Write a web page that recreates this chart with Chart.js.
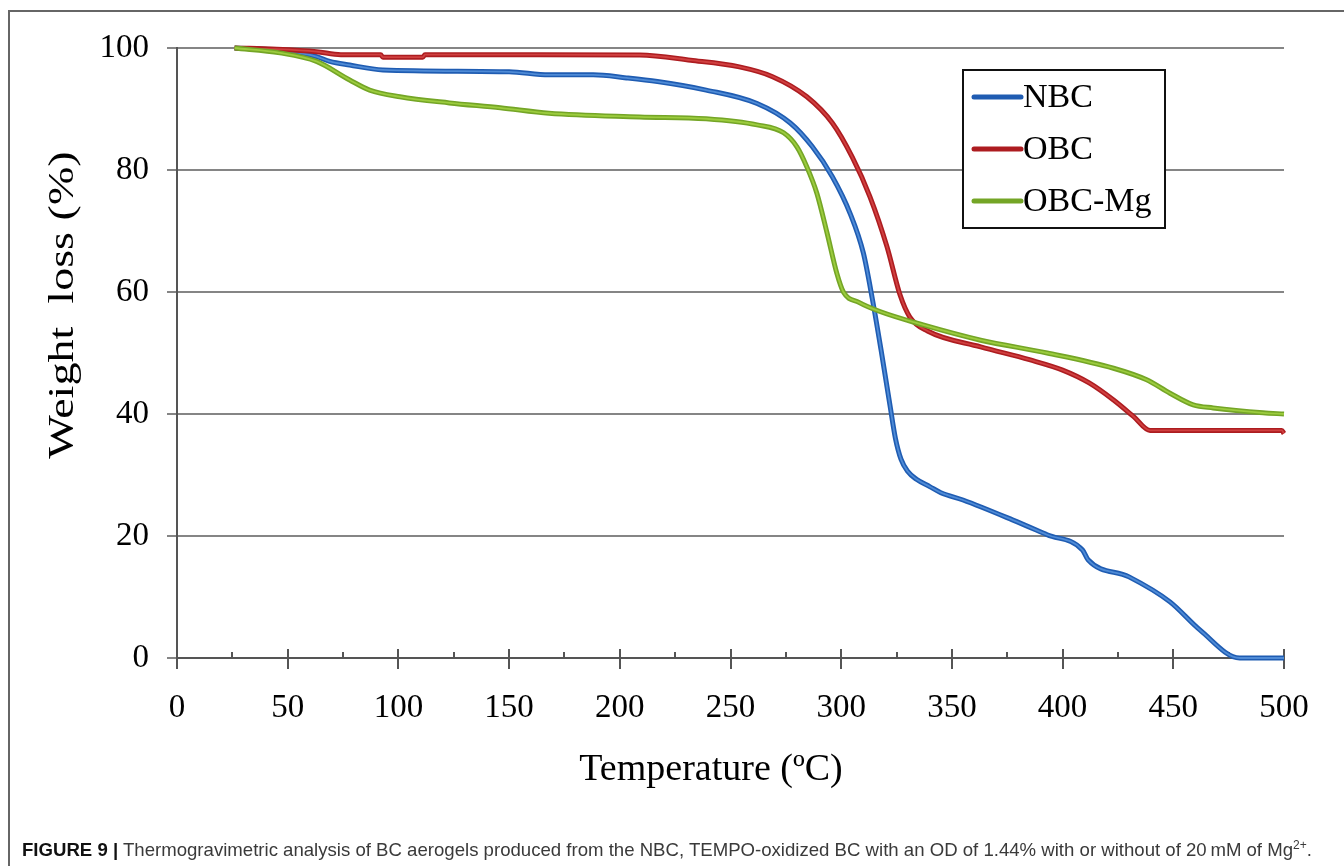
<!DOCTYPE html>
<html>
<head>
<meta charset="utf-8">
<title>TGA - BC aerogels</title>
<script src="https://cdn.jsdelivr.net/npm/chart.js@4.4.0/dist/chart.umd.min.js"></script>
<style>
    html, body { margin: 0; padding: 0; background: #fff; }
    #figure { position: relative; width: 1344px; height: 866px; overflow: hidden; }
    #frame { position: absolute; left: 8px; top: 10px; right: -4px; bottom: -4px;
             border-left: 2px solid #666; border-top: 2px solid #666; }
    #tga { position: absolute; left: 0; top: 0; }
    #caption { position: absolute; left: 22px; top: 839px; white-space: nowrap;
               font-family: 'Liberation Sans', Arial, sans-serif; font-size: 18.6px; color: #3a3a3a; }
    #caption b { color: #111; }
    #caption sup { font-size: 12px; line-height: 0; }
</style>
</head>
<body>
<div id="figure">
    <div id="frame"></div>
    <canvas id="tga" width="1344" height="866"></canvas>
    <div id="caption"><b>FIGURE 9 |</b> Thermogravimetric analysis of BC aerogels produced from the NBC, TEMPO-oxidized BC with an OD of 1.44% with or without of 20&#8201;mM of Mg<sup>2+</sup>.</div>
</div>

<script>
// DADOS DAS CURVAS (temperatura em ºC, massa restante em %)
const nbcTemp   = [26, 50, 63, 69, 78, 93, 150, 168, 188, 203, 217, 239, 262, 277, 287, 296, 304, 310, 314, 318, 322, 324.5, 327, 330, 334, 340, 345, 355, 377.6, 393, 409, 411.5, 430, 448.5, 462, 480, 500];
const nbcWeight = [100, 99.5, 98.6, 97.8, 97.2, 96.4, 96.1, 95.6, 95.6, 95.1, 94.5, 93.1, 90.9, 87.7, 83.8, 78.9, 72.9, 66.4, 59.0, 50.5, 41.5, 36.0, 32.6, 30.6, 29.3, 28.1, 27.1, 25.9, 22.6, 20.2, 17.7, 16.1, 13.3, 9.2, 4.6, 0, 0];

const obcTemp   = [26, 45, 63, 74, 92, 93, 111, 112, 150, 209, 232, 254, 269, 284.5, 296, 305, 313, 320.7, 326.6, 331, 339, 363, 385, 400, 412, 423, 432, 439.5, 499, 500];
const obcWeight = [100, 99.8, 99.4, 98.9, 98.9, 98.5, 98.5, 98.9, 98.9, 98.85, 98.0, 96.9, 95.3, 92.0, 87.7, 82.1, 75.6, 67.4, 59.5, 55.9, 53.6, 51.0, 48.9, 47.2, 45.1, 42.3, 39.6, 37.3, 37.3, 36.8];

const mgTemp    = [26, 46.5, 63, 78, 87, 100.7, 123, 146, 168, 209, 239, 262, 274, 280, 284.5, 289, 293.6, 298, 301, 308, 317.5, 337, 363, 393, 423, 438, 448.5, 459, 468, 490.5, 500];
const mgWeight  = [100, 99.2, 97.8, 94.75, 93.1, 92.0, 91.0, 90.2, 89.3, 88.7, 88.4, 87.4, 86.1, 83.8, 80.5, 76.2, 69.7, 63.1, 60.0, 58.3, 56.8, 54.6, 52.1, 50.0, 47.5, 45.6, 43.4, 41.5, 41.0, 40.2, 40.0];

const seriesNames = ['NBC', 'OBC', 'OBC-Mg'];
const xTicks = [0, 50, 100, 150, 200, 250, 300, 350, 400, 450, 500];
const yTicks = [0, 20, 40, 60, 80, 100];

const serif = "'Liberation Serif', 'Times New Roman', serif";

function toPoints(temps, weights) {
    return temps.map((t, i) => ({ x: t, y: weights[i] }));
}

// TRAÇOS MENORES E MAIORES DO EIXO X (maiores cruzam o eixo)
const xAxisMarks = {
    id: 'xAxisMarks',
    beforeDatasetsDraw(chart) {
        const { ctx, scales: { x } } = chart;
        const base = x.top;
        ctx.save();
        ctx.strokeStyle = '#555';
        ctx.lineWidth = 2;
        xTicks.forEach((v, i) => {
            const px = Math.round(x.getPixelForValue(v));
            ctx.beginPath();
            ctx.moveTo(px, base - 9);
            ctx.lineTo(px, base + 11);
            ctx.stroke();
            if (i < xTicks.length - 1) {
                const mid = Math.round(x.getPixelForValue((v + xTicks[i + 1]) / 2));
                ctx.beginPath();
                ctx.moveTo(mid, base - 6);
                ctx.lineTo(mid, base);
                ctx.stroke();
            }
        });
        ctx.restore();
    }
};

// LINHA CLARA NO MEIO DE CADA CURVA
const innerStroke = {
    id: 'innerStroke',
    afterDatasetDraw(chart, args) {
        const ds = chart.data.datasets[args.index];
        const ctx = chart.ctx;
        ctx.save();
        ctx.strokeStyle = ds.innerColor;
        ctx.lineWidth = 1.8;
        ctx.lineJoin = 'round';
        ctx.beginPath();
        args.meta.dataset.path(ctx);
        ctx.stroke();
        ctx.restore();
    }
};

// LEGENDA DENTRO DA ÁREA DO GRÁFICO
const boxLegend = {
    id: 'boxLegend',
    afterDraw(chart) {
        const ctx = chart.ctx;
        const left = 963, top = 70, w = 202, h = 158;
        ctx.save();
        ctx.fillStyle = '#fff';
        ctx.fillRect(left, top, w, h);
        ctx.strokeStyle = '#111';
        ctx.lineWidth = 2;
        ctx.strokeRect(left, top, w, h);
        ctx.font = '34px ' + serif;
        ctx.textBaseline = 'middle';
        chart.data.datasets.forEach((ds, i) => {
            const y = top + 27 + i * 52;
            ctx.strokeStyle = ds.borderColor;
            ctx.lineWidth = 5;
            ctx.lineCap = 'round';
            ctx.beginPath();
            ctx.moveTo(left + 11, y);
            ctx.lineTo(left + 58, y);
            ctx.stroke();
            ctx.fillStyle = '#000';
            ctx.fillText(ds.label, left + 60, y + 1);
        });
        ctx.restore();
    }
};

// TÍTULOS DOS EIXOS
const axisTitles = {
    id: 'axisTitles',
    afterDraw(chart) {
        const ctx = chart.ctx;
        ctx.save();
        ctx.fillStyle = '#000';
        ctx.font = '38px ' + serif;
        ctx.textAlign = 'center';
        ctx.textBaseline = 'middle';
        ctx.fillText('Temperature (ºC)', 711, 770);
        ctx.font = '36px ' + serif;
        ctx.translate(64, 305);
        ctx.rotate(-Math.PI / 2);
        ctx.scale(1.28, 1);
        ctx.fillText('Weight  loss (%)', 0, 0);
        ctx.restore();
    }
};

const datasets = [
    { label: seriesNames[0], data: toPoints(nbcTemp, nbcWeight), borderColor: '#1f5cb2', innerColor: '#4f8bd6', order: 3 },
    { label: seriesNames[1], data: toPoints(obcTemp, obcWeight), borderColor: '#ad1c20', innerColor: '#d04040', order: 2 },
    { label: seriesNames[2], data: toPoints(mgTemp, mgWeight), borderColor: '#74a526', innerColor: '#9ccc3e', order: 1 }
].map(ds => Object.assign(ds, {
    showLine: true,
    borderWidth: 5,
    pointRadius: 0,
    cubicInterpolationMode: 'monotone',
    clip: false
}));

new Chart(document.getElementById('tga'), {
    type: 'scatter',
    data: { datasets: datasets },
    options: {
        responsive: false,
        animation: false,
        events: [],
        layout: { padding: { top: 48, right: 60, left: 0, bottom: 0 } },
        plugins: { legend: { display: false }, tooltip: { enabled: false } },
        scales: {
            x: {
                type: 'linear',
                min: xTicks[0],
                max: xTicks[xTicks.length - 1],
                afterFit: scale => { scale.height = 208; },
                afterBuildTicks: scale => { scale.ticks = xTicks.map(v => ({ value: v })); },
                grid: { display: false, drawTicks: false },
                border: { display: true, color: '#555', width: 2 },
                ticks: { color: '#000', padding: 31, font: { family: serif, size: 33 } }
            },
            y: {
                min: yTicks[0],
                max: yTicks[yTicks.length - 1],
                afterFit: scale => { scale.width = 177; },
                afterBuildTicks: scale => { scale.ticks = yTicks.map(v => ({ value: v })); },
                grid: { color: '#858585', lineWidth: 2, tickLength: 10, tickColor: '#858585' },
                border: { display: true, color: '#555', width: 2 },
                ticks: { color: '#000', padding: 18, font: { family: serif, size: 33 } }
            }
        }
    },
    plugins: [xAxisMarks, innerStroke, boxLegend, axisTitles]
});
</script>
</body>
</html>
